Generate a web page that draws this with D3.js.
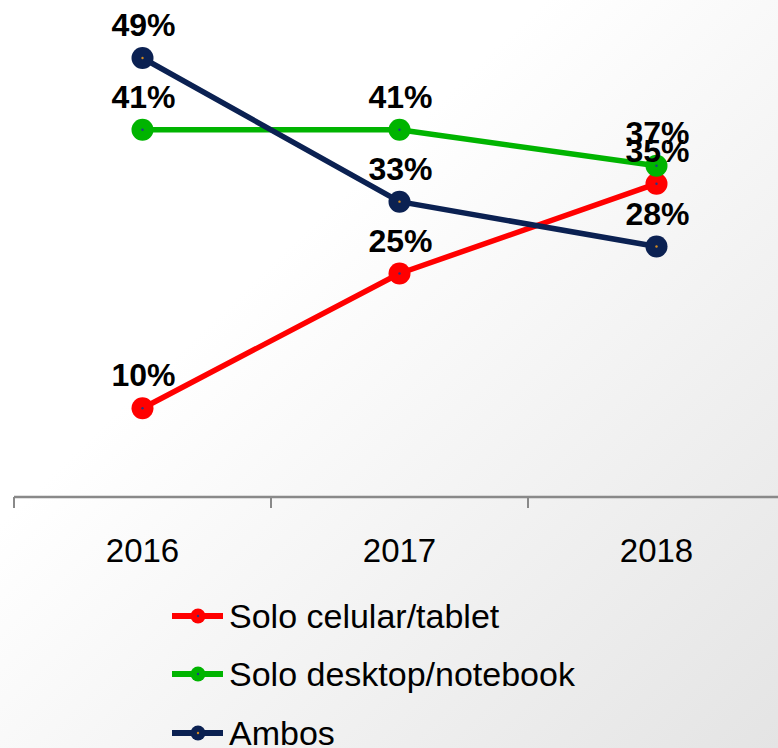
<!DOCTYPE html>
<html><head><meta charset="utf-8">
<script src="https://cdn.jsdelivr.net/npm/d3@7"></script>
<style>html,body{margin:0;padding:0;background:#fff;}svg{display:block;}</style>
</head><body>
<script>
const years = ["2016", "2017", "2018"];
const seriesNames = ["Solo celular/tablet", "Solo desktop/notebook", "Ambos"];
const celular = [10, 25, 35];
const desktop = [41, 41, 37];
const ambos = [49, 33, 28];
const colors = ["#ff0000", "#00b400", "#0b2152"];
const dotColors = ["#1f3a8a", "#1f3a8a", "#d08a20"];

const series = [celular, desktop, ambos].map((v, i) => ({name: seriesNames[i], values: v, color: colors[i], dot: dotColors[i]}));

const W = 778, H = 748;
const svg = d3.select("body").append("svg").attr("width", W).attr("height", H);
const defs = svg.append("defs");
const grad = defs.append("linearGradient").attr("id", "bg").attr("x1", 0).attr("y1", 0).attr("x2", 1).attr("y2", 1);
grad.append("stop").attr("offset", "0.35").attr("stop-color", "#ffffff");
grad.append("stop").attr("offset", "1").attr("stop-color", "#e4e4e4");
svg.append("rect").attr("width", W).attr("height", H).attr("fill", "url(#bg)");

const x = d3.scaleBand().domain(years).range([14, 785]);
const y = d3.scaleLinear().domain([0, 50]).range([498, 49]);
const font = "'Liberation Sans', Arial, sans-serif";

// axis
const gAxis = svg.append("g").attr("transform", "translate(0,497)");
gAxis.append("line").attr("x1", 14).attr("x2", 785).attr("stroke", "#898989").attr("stroke-width", 2.5);
const tickPos = years.map(d => x(d)).concat([x.range()[1]]);
gAxis.selectAll("line.tick").data(tickPos).enter().append("line").attr("class", "tick")
  .attr("x1", d => d).attr("x2", d => d).attr("y1", 0).attr("y2", 11)
  .attr("stroke", "#898989").attr("stroke-width", 2);
svg.append("g").selectAll("text").data(years).enter().append("text")
  .attr("x", d => x(d) + x.bandwidth() / 2).attr("y", 562)
  .attr("text-anchor", "middle").attr("font-family", font).attr("font-size", 33).attr("fill", "#000")
  .text(d => d);

const cx = d => x(d) + x.bandwidth() / 2;
const line = d3.line().x((d, i) => cx(years[i])).y(d => y(d));

series.forEach(s => {
  svg.append("path").attr("d", line(s.values)).attr("fill", "none")
    .attr("stroke", s.color).attr("stroke-width", 5.5).attr("stroke-linejoin", "round");
});
series.forEach(s => {
  const g = svg.append("g");
  g.selectAll("circle.m").data(s.values).enter().append("circle").attr("class", "m")
    .attr("cx", (d, i) => cx(years[i])).attr("cy", d => y(d)).attr("r", 11).attr("fill", s.color);
  g.selectAll("circle.d").data(s.values).enter().append("circle").attr("class", "d")
    .attr("cx", (d, i) => cx(years[i])).attr("cy", d => y(d)).attr("r", 1.2).attr("fill", s.dot);
});
series.forEach(s => {
  svg.append("g").selectAll("text").data(s.values).enter().append("text")
    .attr("x", (d, i) => cx(years[i]) + 1).attr("y", d => y(d) - 22)
    .attr("text-anchor", "middle").attr("font-family", font).attr("font-weight", "bold")
    .attr("font-size", 32).attr("fill", "#000").text(d => d + "%");
});

// legend
const legY = [616, 674, 733];
series.forEach((s, i) => {
  const g = svg.append("g").attr("transform", `translate(0,${legY[i]})`);
  g.append("line").attr("x1", 172).attr("x2", 223).attr("stroke", s.color).attr("stroke-width", 6);
  g.append("circle").attr("cx", 198).attr("r", 7.5).attr("fill", s.color);
  g.append("circle").attr("cx", 198).attr("r", 1.2).attr("fill", s.dot);
  g.append("text").attr("x", 229).attr("y", 12).attr("font-family", font).attr("font-size", 34)
    .attr("fill", "#000").text(s.name);
});
</script>
</body></html>
